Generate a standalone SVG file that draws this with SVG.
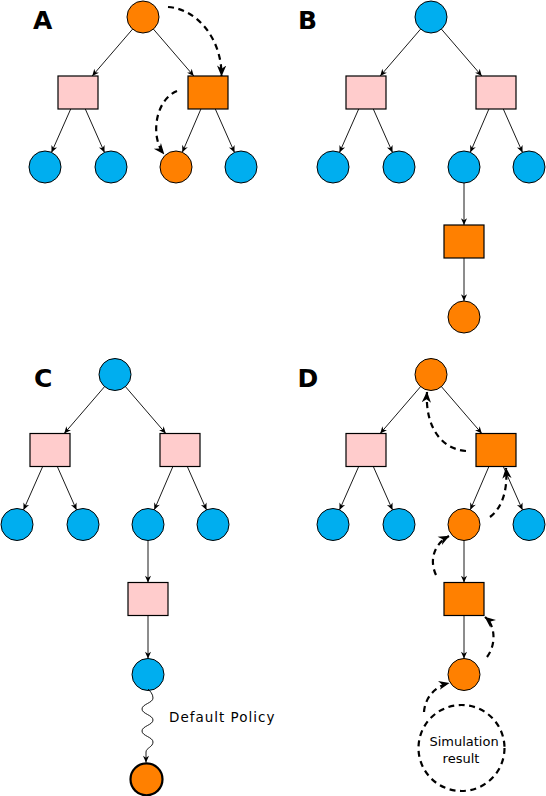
<svg xmlns="http://www.w3.org/2000/svg" width="546" height="796" viewBox="0 0 546 796">
<defs>
<style>
.blue{fill:#00AEEF;stroke:#000;stroke-width:1}
.org{fill:#FF8000;stroke:#000;stroke-width:1}
.pink{fill:#FFCCCC;stroke:#000;stroke-width:1.2}
.osq{fill:#FF8000;stroke:#000;stroke-width:1.2}
.edge{fill:none;stroke:#000;stroke-width:0.9;marker-end:url(#ah)}
.dash{fill:none;stroke:#000;stroke-width:2.2;stroke-dasharray:6,4.5;marker-end:url(#dh)}
.lbl{font-family:"DejaVu Sans",sans-serif;font-weight:bold;font-size:25px;fill:#000}
.txt{font-family:"DejaVu Sans",sans-serif;font-size:13px;fill:#000}
</style>
<marker id="ah" markerUnits="userSpaceOnUse" markerWidth="8" markerHeight="8" viewBox="0 0 10 10" refX="9.5" refY="5" orient="auto"><path d="M1,1.2 L9.5,5 L1,8.8 L3.5,5 z" fill="#000"/></marker>
<marker id="dh" markerUnits="userSpaceOnUse" markerWidth="11" markerHeight="11" viewBox="0 0 10 10" refX="9.5" refY="5" orient="auto"><path d="M0,0.8 L10,5 L0,9.2 L3,5 z" fill="#000"/></marker>
</defs>
<rect width="546" height="796" fill="#fff"/>

<!-- Panel A -->
<g id="panelA">
<text class="lbl" x="33" y="29">A</text>
<g id="A-edges">
<path class="edge" d="M132.6,29.1 L92.2,76"/>
<path class="edge" d="M153.4,29.1 L193.8,76"/>
<path class="edge" d="M70.7,109 L51.5,152.4"/>
<path class="edge" d="M85.3,109 L104.5,152.4"/>
<path class="edge" d="M200.9,109 L182.3,152.3"/>
<path class="edge" d="M215.3,109 L234.5,152.4"/>
</g>
<g id="A-root"><circle class="org" cx="143" cy="17" r="16"/></g>
<g id="A-sl"><rect class="pink" x="58" y="76" width="40" height="33"/></g>
<g id="A-sr"><rect class="osq" x="188" y="76" width="40" height="33"/></g>
<g id="A-l1"><circle class="blue" cx="45" cy="167" r="16"/></g>
<g id="A-l2"><circle class="blue" cx="111" cy="167" r="16"/></g>
<g id="A-l3"><circle class="org" cx="176" cy="167" r="16"/></g>
<g id="A-l4"><circle class="blue" cx="241" cy="167" r="16"/></g>
</g>

<!-- Panel B -->
<g id="panelB" transform="translate(288,0)">
<text class="lbl" x="10" y="29">B</text>
<g id="B-edges">
<path class="edge" d="M132.6,29.1 L92.2,76"/>
<path class="edge" d="M153.4,29.1 L193.8,76"/>
<path class="edge" d="M70.7,109 L51.5,152.4"/>
<path class="edge" d="M85.3,109 L104.5,152.4"/>
<path class="edge" d="M200.9,109 L182.3,152.3"/>
<path class="edge" d="M215.3,109 L234.5,152.4"/>
<path class="edge" d="M176,183 L176,225"/>
<path class="edge" d="M176,258 L176,301"/>
</g>
<g id="B-root"><circle class="blue" cx="143" cy="17" r="16"/></g>
<g id="B-sl"><rect class="pink" x="58" y="76" width="40" height="33"/></g>
<g id="B-sr"><rect class="pink" x="188" y="76" width="40" height="33"/></g>
<g id="B-l1"><circle class="blue" cx="45" cy="167" r="16"/></g>
<g id="B-l2"><circle class="blue" cx="111" cy="167" r="16"/></g>
<g id="B-l3"><circle class="blue" cx="176" cy="167" r="16"/></g>
<g id="B-l4"><circle class="blue" cx="241" cy="167" r="16"/></g>
<g id="B-x"><rect class="osq" x="156" y="225" width="40" height="33"/></g>
<g id="B-y"><circle class="org" cx="176" cy="317" r="16"/></g>
</g>

<!-- Panel C -->
<g id="panelC" transform="translate(-28,357.5)">
<text class="lbl" x="62" y="29.5">C</text>
<g id="C-edges">
<path class="edge" d="M132.6,29.1 L92.2,76"/>
<path class="edge" d="M153.4,29.1 L193.8,76"/>
<path class="edge" d="M70.7,109 L51.5,152.4"/>
<path class="edge" d="M85.3,109 L104.5,152.4"/>
<path class="edge" d="M200.9,109 L182.3,152.3"/>
<path class="edge" d="M215.3,109 L234.5,152.4"/>
<path class="edge" d="M176,183 L176,225"/>
<path class="edge" d="M176,258 L176,301"/>
</g>
<g id="C-root"><circle class="blue" cx="143" cy="17" r="16"/></g>
<g id="C-sl"><rect class="pink" x="58" y="76" width="40" height="33"/></g>
<g id="C-sr"><rect class="pink" x="188" y="76" width="40" height="33"/></g>
<g id="C-l1"><circle class="blue" cx="45" cy="167" r="16"/></g>
<g id="C-l2"><circle class="blue" cx="111" cy="167" r="16"/></g>
<g id="C-l3"><circle class="blue" cx="176" cy="167" r="16"/></g>
<g id="C-l4"><circle class="blue" cx="241" cy="167" r="16"/></g>
<g id="C-x"><rect class="pink" x="156" y="225" width="40" height="33"/></g>
<g id="C-y"><circle class="blue" cx="176" cy="317" r="16"/></g>
</g>
<g id="C-term"><circle cx="146.5" cy="779.3" r="16" fill="#FF8000" stroke="#000" stroke-width="2.2"/></g>
<g id="C-policy-label"><text class="txt" x="169" y="721.7" style="font-size:13.5px;letter-spacing:1px">Default Policy</text></g>

<!-- Panel D -->
<g id="panelD" transform="translate(288,357.5)">
<text class="lbl" x="9.5" y="29.5">D</text>
<g id="D-edges">
<path class="edge" d="M132.6,29.1 L92.2,76"/>
<path class="edge" d="M153.4,29.1 L193.8,76"/>
<path class="edge" d="M70.7,109 L51.5,152.4"/>
<path class="edge" d="M85.3,109 L104.5,152.4"/>
<path class="edge" d="M200.9,109 L182.3,152.3"/>
<path class="edge" d="M215.3,109 L234.5,152.4"/>
<path class="edge" d="M176,183 L176,225"/>
<path class="edge" d="M176,258 L176,301"/>
</g>
<g id="D-root"><circle class="org" cx="143" cy="17" r="16"/></g>
<g id="D-sl"><rect class="pink" x="58" y="76" width="40" height="33"/></g>
<g id="D-sr"><rect class="osq" x="188" y="76" width="40" height="33"/></g>
<g id="D-l1"><circle class="blue" cx="45" cy="167" r="16"/></g>
<g id="D-l2"><circle class="blue" cx="111" cy="167" r="16"/></g>
<g id="D-l3"><circle class="org" cx="176" cy="167" r="16"/></g>
<g id="D-l4"><circle class="blue" cx="241" cy="167" r="16"/></g>
<g id="D-x"><rect class="osq" x="156" y="225" width="40" height="33"/></g>
<g id="D-y"><circle class="org" cx="176" cy="317" r="16"/></g>
</g>
<g id="D-sim">
<circle cx="461.5" cy="748" r="43" fill="none" stroke="#000" stroke-width="2.2" stroke-dasharray="6,4.5"/>
<text class="txt" x="464" y="746" text-anchor="middle">Simulation</text>
<text class="txt" x="461" y="762.7" text-anchor="middle">result</text>
</g>

<!-- Extra connectors -->
<g id="connectors">
<path class="edge" d="M148,689 C150,691 153,694 153,698 C153,703 142,704 142,709 C142,714 153,715 153,720 C153,725 142,726 142,731 C142,736 153,737 153,742 C153,747 146,748 146,752 L146,762.5"/>
<path class="dash" d="M168,7 C198,9 222,40 221.5,76"/>
<path class="dash" d="M177,91 C155,100 150,137 164,154"/>
<path class="dash" d="M466,451 C440,449 425,425 427,392"/>
<path class="dash" d="M490,517 C502,508 508,490 506,468"/>
<path class="dash" d="M436,575 C429,560 434,544 449,536"/>
<path class="dash" d="M487,657 C496,645 496,626 485,617"/>
<path class="dash" d="M424,712 C425,697 436,686 449,683"/>
</g>
</svg>
